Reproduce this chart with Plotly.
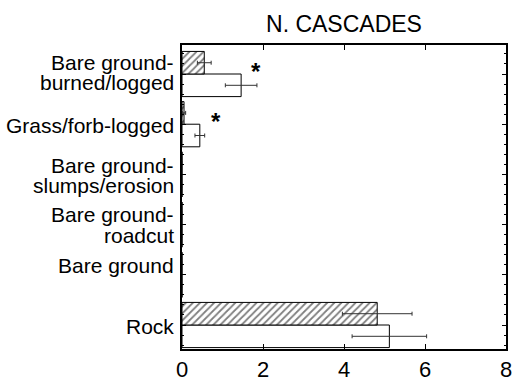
import plotly.graph_objects as go

# Data (categories bottom -> top)
categories = ["Rock", "Bare ground", "Bare ground-roadcut", "Bare ground-slumps/erosion",
              "Grass/forb-logged", "Bare ground-burned/logged"]
hatched_vals = [4.82, 0.0, 0.0, 0.0, 0.05, 0.55]
hatched_err = [0.86, 0.0, 0.0, 0.0, 0.04, 0.17]
white_vals = [5.12, 0.0, 0.0, 0.0, 0.44, 1.46]
white_err = [0.92, 0.0, 0.0, 0.0, 0.12, 0.39]

# label lines per category, with vertical offset (in category units)
label_lines = [
    [("Rock", -0.02)],
    [("Bare ground", 0.18)],
    [("Bare ground-", 0.2), ("roadcut", -0.21)],
    [("Bare ground-", 0.17), ("slumps/erosion", -0.23)],
    [("Grass/forb-logged", -0.02)],
    [("Bare ground-", 0.22), ("burned/logged", -0.17)],
]
star_points = [(1.83, 5.06), (0.84, 4.06)]
x_ticks = [0, 2, 4, 6, 8]

FONT = "Liberation Sans, Arial, sans-serif"
ypos = list(range(len(categories)))

fig = go.Figure()
fig.add_trace(go.Bar(
    y=ypos, x=white_vals, orientation="h", width=0.45, offset=-0.45,
    marker=dict(color="white", line=dict(color="black", width=1)),
    error_x=dict(type="data", array=white_err, color="#333", thickness=1, width=2),
    showlegend=False))
fig.add_trace(go.Bar(
    y=ypos, x=hatched_vals, orientation="h", width=0.45, offset=0,
    marker=dict(color="white", line=dict(color="black", width=1),
                pattern=dict(shape="/", fgcolor="black", bgcolor="white", size=5, solidity=0.35)),
    error_x=dict(type="data", array=hatched_err, color="#333", thickness=1, width=2),
    showlegend=False))

for i, lines in enumerate(label_lines):
    for txt, off in lines:
        fig.add_annotation(x=-0.0185, xref="paper", y=i + off, yref="y", text=txt,
                           showarrow=False, xanchor="right", yanchor="middle",
                           font=dict(family=FONT, size=21, color="black"))

for sx, sy in star_points:
    fig.add_annotation(x=sx, y=sy, text="<b>*</b>", showarrow=False,
                       xanchor="center", yanchor="middle",
                       font=dict(family=FONT, size=24, color="black"))

fig.update_layout(
    width=513, height=378,
    margin=dict(l=182, r=7, t=45, b=29, autoexpand=False),
    paper_bgcolor="white", plot_bgcolor="white",
    barmode="overlay",
    title=dict(text="N. CASCADES", x=(182 + 506) / 2 / 513, xanchor="center",
               y=1 - 23.5 / 378, yanchor="middle", yref="container",
               font=dict(family=FONT, size=23, color="black")),
    font=dict(family=FONT, color="black"),
)
fig.update_xaxes(range=[0, 8], tickvals=x_ticks, ticks="inside", ticklen=5,
                 tickcolor="black", showline=True, linecolor="black", linewidth=1.5,
                 mirror="ticks", showgrid=False, zeroline=False, automargin=False,
                 tickfont=dict(family=FONT, size=22, color="black"))
fig.update_yaxes(range=[-0.478, 5.578], tickvals=ypos, ticks="inside", ticklen=4,
                 tickcolor="black", showticklabels=False, showline=True,
                 linecolor="black", linewidth=1.5, mirror="ticks", automargin=False,
                 showgrid=False, zeroline=False,
                 minor=dict(ticks="inside", ticklen=2, dtick=0.2, tickcolor="black"))

fig.write_html("out.html", config={"displayModeBar": False},
               post_script="document.body.style.margin='0';document.body.style.overflow='hidden';")
